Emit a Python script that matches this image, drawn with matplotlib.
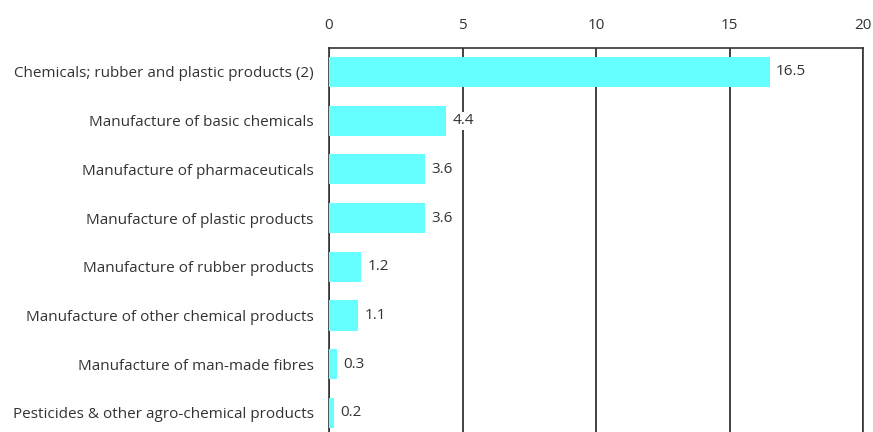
import matplotlib
matplotlib.use("Agg")
import matplotlib.pyplot as plt

categories = [
    "Chemicals; rubber and plastic products (2)",
    "Manufacture of basic chemicals",
    "Manufacture of pharmaceuticals",
    "Manufacture of plastic products",
    "Manufacture of rubber products",
    "Manufacture of other chemical products",
    "Manufacture of man-made fibres",
    "Pesticides & other agro-chemical products",
]
values = [16.5, 4.4, 3.6, 3.6, 1.2, 1.1, 0.3, 0.2]
xticks = [0, 5, 10, 15, 20]

plt.rcParams['font.family'] = ['Open Sans', 'DejaVu Sans']
txt = '#333333'
fs = 11

fig = plt.figure(figsize=(8.73, 4.32), dpi=100)
ax = fig.add_axes([329/873, 0, (863-329)/873, (432-48)/432])

y = list(range(len(categories)))
ax.barh(y, values, height=0.62, color='#66FFFF', zorder=3)
ax.set_ylim(7.39, -0.49)
ax.set_xlim(0, 20)
ax.set_yticks(y)
ax.set_yticklabels(categories, fontsize=fs, color=txt)
ax.set_xticks(xticks)
ax.set_xticklabels([str(t) for t in xticks], fontsize=fs, color=txt)
ax.xaxis.tick_top()
ax.tick_params(axis='both', length=0)
ax.tick_params(axis='x', pad=11)
ax.tick_params(axis='y', pad=11)
ax.grid(axis='x', color='#222222', linewidth=1.2, zorder=0)
ax.set_axisbelow(True)
for s in ['top', 'left', 'right']:
    ax.spines[s].set_color('#333333')
    ax.spines[s].set_linewidth(1.2)
ax.spines['bottom'].set_visible(False)

for yi, v in zip(y, values):
    ax.annotate(f"{v}", xy=(v, yi), xytext=(4.5, 0), textcoords='offset points',
                va='center', ha='left', fontsize=fs, color=txt, zorder=4,
                bbox=dict(boxstyle='square,pad=0.1', fc='white', ec='none'))

fig.savefig('out.png', dpi=100)
